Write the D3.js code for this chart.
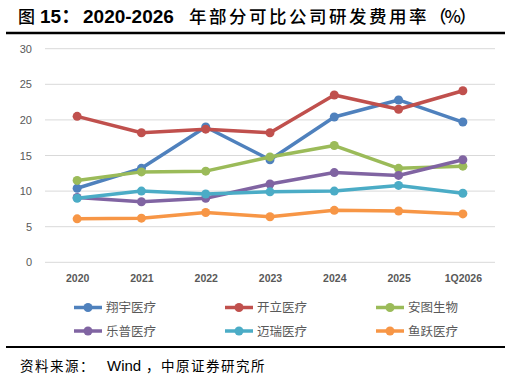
<!DOCTYPE html>
<html>
<head>
<meta charset="utf-8">
<script src="https://cdn.jsdelivr.net/npm/d3@7"></script>
<style>
  body { margin: 0; background: #fff; }
  svg { display: block; }
</style>
</head>
<body>
<svg id="chart" width="511" height="379"></svg>
<script>
// categories along the x axis
const years = ["2020", "2021", "2022", "2023", "2024", "2025", "1Q2026"];
const yTicks = [0, 5, 10, 15, 20, 25, 30];

// R&D expense ratio (%) per company
const xiangyu = [10.4, 13.2, 19.0, 14.4, 20.4, 22.8, 19.7];
const kaili   = [20.5, 18.2, 18.7, 18.2, 23.5, 21.5, 24.1];
const antu    = [11.5, 12.7, 12.8, 14.8, 16.4, 13.2, 13.5];
const lepu    = [9.1, 8.5, 9.0, 11.0, 12.6, 12.2, 14.4];
const mairui  = [9.0, 10.0, 9.6, 9.9, 10.0, 10.8, 9.7];
const yuyue   = [6.1, 6.2, 7.0, 6.4, 7.3, 7.2, 6.8];

const seriesNames = ["翔宇医疗", "开立医疗", "安图生物", "乐普医疗", "迈瑞医疗", "鱼跃医疗"];
const seriesValues = [xiangyu, kaili, antu, lepu, mairui, yuyue];
const colors = ["#4F81BD", "#C0504D", "#9BBB59", "#8064A2", "#4BACC6", "#F79646"];

const svg = d3.select("#chart");
const font = "'Liberation Sans', Arial, 'Noto Sans CJK SC', sans-serif";
const cjk = "'Noto Sans CJK SC', sans-serif";

// title + rule (mixed latin bold / cjk pieces)
const title = svg.append("text")
  .attr("y", 23)
  .attr("font-family", font)
  .attr("fill", "#000");
[
  { t: "图", x: 18, f: cjk, s: 17, w: 500, ls: 0 },
  { t: "15：", x: 40, f: font, s: 19, w: "bold", ls: 0 },
  { t: "2020-2026", x: 83, f: font, s: 19, w: "bold", ls: 0 },
  { t: "年部分可比公司研发费用率", x: 189, f: cjk, s: 17.5, w: 500, ls: 2.5 },
  { t: "（%）", x: null, f: cjk, s: 17.5, w: 500, ls: -2 }
].forEach(p => {
  const ts = title.append("tspan")
    .attr("font-family", p.f)
    .attr("font-size", p.s)
    .attr("font-weight", p.w)
    .attr("letter-spacing", p.ls)
    .text(p.t);
  if (p.x !== null) ts.attr("x", p.x);
});
svg.append("line")
  .attr("x1", 6).attr("x2", 505).attr("y1", 33).attr("y2", 33)
  .attr("stroke", "#000").attr("stroke-width", 2.5);

// scales
const x = d3.scalePoint().domain(years).range([45, 495]).padding(0.5);
const y = d3.scaleLinear().domain([0, 30]).range([262.3, 48.7]);

// gridlines
svg.append("g").selectAll("line")
  .data(yTicks).enter().append("line")
  .attr("x1", 45).attr("x2", 495)
  .attr("y1", d => y(d)).attr("y2", d => y(d))
  .attr("stroke", "#D9D9D9").attr("stroke-width", 1);

// y axis labels
const yAxis = svg.append("g")
  .attr("transform", "translate(32,0)")
  .call(d3.axisLeft(y).tickValues(yTicks).tickSize(0).tickPadding(0));
yAxis.select(".domain").remove();
yAxis.selectAll("text")
  .attr("font-family", font).attr("font-size", 11).attr("fill", "#595959");

// x axis labels
const xAxis = svg.append("g")
  .attr("transform", "translate(0,275)")
  .call(d3.axisBottom(x).tickSize(0).tickPadding(0));
xAxis.select(".domain").remove();
xAxis.selectAll("text")
  .attr("font-family", font).attr("font-size", 10.5).attr("font-weight", "bold")
  .attr("fill", "#595959");

// lines + markers
const line = d3.line().x((d, i) => x(years[i])).y(d => y(d));
const plot = svg.append("g");
seriesValues.forEach((vals, k) => {
  plot.append("path")
    .attr("d", line(vals))
    .attr("fill", "none")
    .attr("stroke", colors[k])
    .attr("stroke-width", 3.5)
    .attr("stroke-linejoin", "round");
  plot.selectAll(".m" + k)
    .data(vals).enter().append("circle")
    .attr("cx", (d, i) => x(years[i]))
    .attr("cy", d => y(d))
    .attr("r", 4.5)
    .attr("fill", colors[k]);
});

// legend
const legCols = [74, 225, 376];
const legRows = [307.5, 331];
const legend = svg.append("g");
seriesNames.forEach((name, k) => {
  const lx = legCols[k % 3], ly = legRows[Math.floor(k / 3)];
  legend.append("line")
    .attr("x1", lx).attr("x2", lx + 28).attr("y1", ly).attr("y2", ly)
    .attr("stroke", colors[k]).attr("stroke-width", 3.5);
  legend.append("circle")
    .attr("cx", lx + 14).attr("cy", ly).attr("r", 4.5).attr("fill", colors[k]);
  legend.append("text")
    .attr("x", lx + 32).attr("y", ly + 4.5)
    .attr("font-family", cjk).attr("font-size", 12.5)
    .attr("fill", "#595959")
    .text(name);
});

// bottom rule + source
svg.append("line")
  .attr("x1", 6).attr("x2", 505).attr("y1", 347).attr("y2", 347)
  .attr("stroke", "#000").attr("stroke-width", 2);
const src = svg.append("text")
  .attr("y", 371)
  .attr("fill", "#000");
[
  { t: "资料来源：", x: 20, f: cjk, s: 13.5, ls: 1.5 },
  { t: "Wind", x: 107, f: font, s: 15, ls: 0 },
  { t: "，中原证券研究所", x: 146, f: cjk, s: 13.5, ls: 1.5 }
].forEach(p => {
  src.append("tspan")
    .attr("x", p.x)
    .attr("font-family", p.f)
    .attr("font-size", p.s)
    .attr("letter-spacing", p.ls)
    .text(p.t);
});
</script>
</body>
</html>
